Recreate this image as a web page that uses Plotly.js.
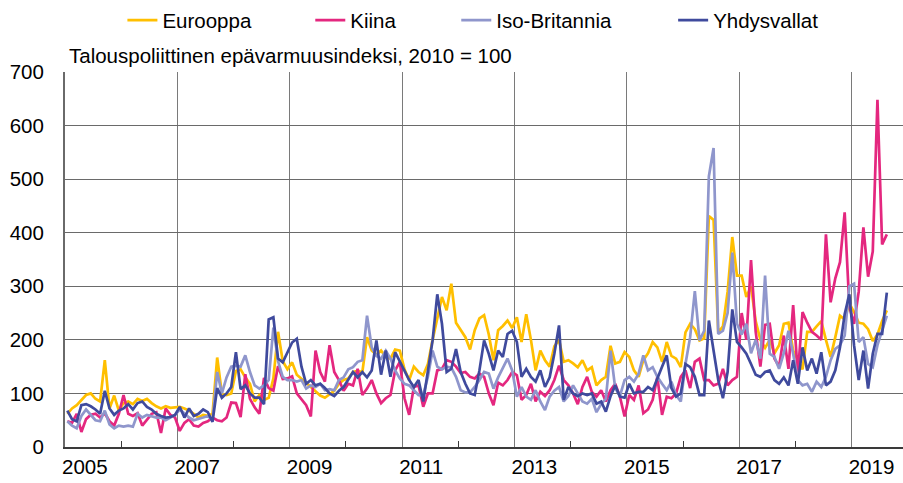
<!DOCTYPE html>
<html>
<head>
<meta charset="utf-8">
<script src="https://cdn.plot.ly/plotly-3.0.1.min.js"></script>
<style>
html,body{margin:0;padding:0;background:#fff;}
#chart{width:903px;height:483px;}
</style>
</head>
<body>
<div id="chart"></div>
<script>
// Monthly index values, 2010 = 100; first month = January 2005
const startYear = 2005;
const seriesNames = ["Eurooppa", "Kiina", "Iso-Britannia", "Yhdysvallat"];
const chartTitle = "Talouspoliittinen epävarmuusindeksi, 2010 = 100";

const eurooppa = [
  62, 72, 78, 88, 97, 100, 90, 85, 162, 72, 96, 68,
  82, 85, 80, 90, 86, 90, 82, 76, 72, 76, 73, 74,
  75, 72, 68, 62, 55, 60, 58, 62, 167, 100, 97, 100,
  142, 145, 130, 118, 85, 97, 88, 92, 128, 215, 160, 145,
  158, 135, 128, 120, 112, 104, 96, 92, 98, 105, 118, 125,
  128, 140, 142, 140, 205, 180, 172, 180, 168, 165, 182, 180,
  145, 125, 150, 140, 134, 155, 200, 242, 280, 255, 305, 232,
  218, 205, 182, 218, 240, 246, 210, 162, 218, 226, 236, 222,
  242, 196, 248, 200, 143, 180, 162, 150, 188, 200, 159, 162,
  156, 149, 162, 143, 149, 115, 125, 131, 189, 156, 159, 177,
  168, 143, 131, 162, 175, 196, 186, 159, 196, 170, 165, 149,
  214, 230, 220, 199, 203, 431, 424, 214, 225, 290, 392, 320,
  320, 280, 300, 235, 200, 185, 200, 175, 190, 230, 232, 180,
  162, 145, 215, 215, 225, 235, 200, 168, 205, 245, 238, 268,
  252, 232, 230, 220, 198, 210, 235, 255
];
const kiina = [
  48, 45, 62, 28, 52, 60, 62, 55, 63, 48, 40, 62,
  97, 62, 58, 63, 40, 50, 62, 65, 26, 72, 60, 55,
  30, 45, 52, 40, 38, 45, 48, 55, 50, 48, 55, 83,
  82, 56, 136, 90, 74, 62, 129, 110, 105, 151, 127, 128,
  132, 100, 88, 78, 57, 180, 140, 122, 190, 140, 125, 105,
  118, 115, 146, 97, 109, 125, 100, 82, 91, 97, 143, 159,
  91, 60, 112, 115, 75, 100, 100, 143, 146, 162, 159, 150,
  138, 140, 131, 128, 137, 131, 100, 78, 120, 115, 125, 140,
  134, 88, 97, 118, 85, 103, 95, 106, 125, 152, 125, 115,
  100, 80, 112, 131, 103, 94, 106, 85, 106, 118, 94, 57,
  97, 88, 115, 63, 70, 88, 131, 60, 94, 91, 100, 131,
  143, 110, 159, 165, 125, 125, 115, 118, 146, 115, 125, 131,
  250, 200, 349, 215, 150, 228, 230, 165, 150, 208, 146, 265,
  135, 252, 232, 215, 208, 200, 397, 270, 315, 345, 438, 262,
  230, 290, 410, 318, 365, 648, 378, 397
];
const isoBritannia = [
  48, 40, 35, 58, 70, 60, 50, 48, 68, 42, 35, 40,
  38, 40, 38, 62, 55, 60, 58, 55, 55, 50, 55, 60,
  70, 62, 55, 50, 52, 55, 58, 50, 140, 100, 130, 150,
  152, 150, 171, 140, 115, 109, 115, 125, 223, 160, 131, 125,
  125, 122, 125, 109, 115, 112, 118, 106, 108, 106, 125, 130,
  145, 149, 159, 162, 245, 186, 170, 165, 180, 165, 143, 128,
  118, 115, 106, 97, 97, 131, 180, 150, 145, 150, 148, 131,
  106, 102, 102, 112, 125, 140, 137, 109, 130, 149, 165, 143,
  94, 112, 94, 88, 106, 85, 69, 94, 105, 112, 85, 95,
  115, 100, 85, 81, 90, 65, 80, 90, 180, 110, 95, 125,
  131, 122, 137, 171, 143, 149, 131, 118, 106, 122, 97, 85,
  155, 205, 291, 199, 217, 505, 558, 211, 217, 250, 363, 230,
  210, 230, 175, 200, 165, 320, 174, 168, 146, 175, 217, 174,
  125, 115, 118, 103, 122, 112, 131, 162, 183, 190, 208, 300,
  305, 196, 205, 155, 149, 190, 217, 245
];
const yhdysvallat = [
  68, 52, 48, 78, 80, 76, 70, 62, 105, 72, 60, 68,
  72, 80, 70, 82, 85, 75, 70, 62, 58, 55, 56, 60,
  75, 55, 72, 58, 62, 70, 65, 47, 110, 92, 100, 112,
  177, 108, 115, 100, 92, 92, 80, 238, 242, 165, 158, 175,
  195, 202, 150, 118, 125, 115, 118, 110, 100, 95, 105, 112,
  125, 140, 130, 140, 130, 143, 199, 135, 180, 131, 177, 160,
  140, 125, 112, 125, 85, 140, 199, 285, 230, 140, 146, 183,
  140, 118, 100, 97, 143, 199, 174, 143, 180, 168, 211, 217,
  196, 131, 146, 131, 122, 143, 112, 130, 174, 227, 88, 112,
  100, 95, 100, 97, 100, 81, 85, 66, 95, 115, 94, 92,
  118, 100, 103, 103, 112, 106, 130, 150, 171, 110, 94, 100,
  155, 149, 131, 97, 97, 236, 180, 125, 91, 140, 257, 196,
  186, 174, 155, 135, 131, 140, 143, 125, 118, 130, 115, 162,
  118, 186, 143, 165, 137, 177, 115, 122, 143, 186, 248, 285,
  190, 125, 180, 109, 174, 211, 211, 288
];

const colors = ["#FFBF00", "#E4277F", "#8F96CC", "#3F4A9D"];
const allSeries = [eurooppa, kiina, isoBritannia, yhdysvallat];
const legendIds = ["legend", "legend2", "legend3", "legend4"];

// month midpoints as decimal years
const xMonths = eurooppa.map((_, i) => startYear + (i + 0.5) / 12);

const traces = allSeries.map((ys, k) => ({
  type: "scatter",
  mode: "lines",
  name: seriesNames[k],
  x: xMonths,
  y: ys,
  line: {color: colors[k], width: 2.7},
  legend: legendIds[k],
  hoverinfo: "skip"
}));

const font = {family: "Liberation Sans, Arial, sans-serif", size: 20.5, color: "#000"};
const legendX = [0.0685, 0.2927, 0.4669, 0.7257];
function legendCfg(x) {
  return {x: x, y: 1.138, xanchor: "left", yanchor: "middle", orientation: "h",
          bgcolor: "rgba(0,0,0,0)", borderwidth: 0, font: font, itemwidth: 30};
}

const layout = {
  width: 903, height: 483,
  margin: {l: 65, r: 0, t: 68, b: 36, pad: 0},
  paper_bgcolor: "#fff", plot_bgcolor: "#fff",
  font: font,
  showlegend: true,
  legend: legendCfg(legendX[0]),
  legend2: legendCfg(legendX[1]),
  legend3: legendCfg(legendX[2]),
  legend4: legendCfg(legendX[3]),
  xaxis: {
    type: "linear",
    range: [2005, 2019.913],
    tickmode: "linear", tick0: 2005, dtick: 2,
    tickformat: "d",
    ticks: "", ticklabelposition: "outside right", ticklabelshift: -4,
    showgrid: true, gridcolor: "#7a7a7a", gridwidth: 1,
    showline: true, linecolor: "#3a3a3a", linewidth: 2,
    minor: {tick0: 2005, dtick: 1, ticks: "inside", ticklen: 6, tickcolor: "#3a3a3a", tickwidth: 1, showgrid: false},
    zeroline: false, fixedrange: true
  },
  yaxis: {
    range: [0, 700],
    tickmode: "linear", tick0: 0, dtick: 100,
    ticks: "outside", ticklen: 15, tickcolor: "rgba(0,0,0,0)",
    showgrid: true, gridcolor: "#6a6a6a", gridwidth: 1,
    showline: true, linecolor: "#6a6a6a", linewidth: 2,
    zeroline: false, fixedrange: true
  },
  annotations: [{
    text: chartTitle, xref: "paper", yref: "paper",
    x: 0.002, y: 1.045, xanchor: "left", yanchor: "middle",
    showarrow: false, font: font
  }]
};

Plotly.newPlot("chart", traces, layout, {displayModeBar: false, staticPlot: true});
</script>
</body>
</html>
